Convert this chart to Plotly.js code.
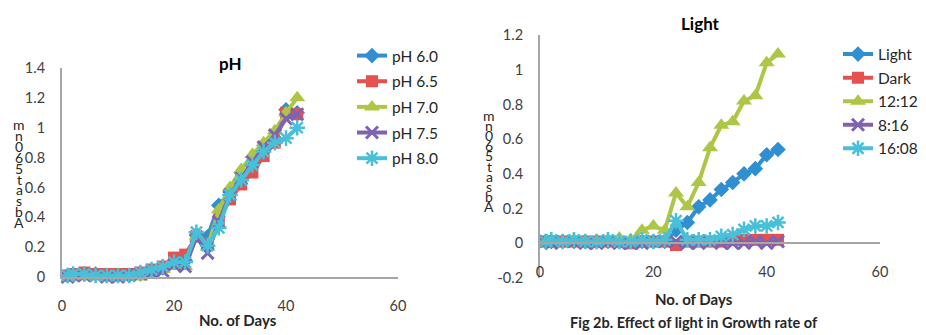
<!DOCTYPE html>
<html>
<head>
<meta charset="utf-8">
<script src="https://cdn.plot.ly/plotly-3.0.1.min.js"></script>
<style>html,body{margin:0;padding:0;background:#fff}#chart{width:926px;height:335px}</style>
</head>
<body>
<div id="chart"></div>
<script>
// ---------- data ----------
const days = [1, 2, 4, 6, 8, 10, 12, 14, 16, 18, 20, 22, 24, 26, 28, 30, 32, 34, 36, 38, 40, 42];

const phNames = ['pH 6.0', 'pH 6.5', 'pH 7.0', 'pH 7.5', 'pH 8.0'];
const ph60 = [0.01, 0.01, 0.02, 0.02, 0.01, 0.01, 0.01, 0.02, 0.04, 0.06, 0.10, 0.11, 0.28, 0.27, 0.48, 0.57, 0.66, 0.76, 0.85, 0.93, 1.12, 1.10];
const ph65 = [0.01, 0.02, 0.03, 0.02, 0.02, 0.02, 0.02, 0.03, 0.05, 0.07, 0.13, 0.15, 0.27, 0.22, 0.38, 0.52, 0.62, 0.70, 0.81, 0.90, 1.10, 1.09];
const ph70 = [-0.01, 0.00, 0.00, 0.00, -0.01, -0.01, -0.01, 0.00, 0.02, 0.05, 0.07, 0.07, 0.27, 0.20, 0.45, 0.60, 0.72, 0.82, 0.90, 0.98, 1.10, 1.20];
const ph75 = [0.00, 0.01, 0.01, 0.01, 0.00, 0.00, 0.01, 0.02, 0.03, 0.04, 0.08, 0.07, 0.27, 0.16, 0.37, 0.55, 0.66, 0.77, 0.87, 0.95, 1.06, 1.09];
const ph80 = [0.01, 0.02, 0.02, 0.01, 0.01, 0.01, 0.01, 0.03, 0.05, 0.07, 0.10, 0.10, 0.30, 0.21, 0.33, 0.55, 0.65, 0.75, 0.84, 0.90, 0.93, 1.00];

const lightNames = ['Light', 'Dark', '12:12', '8:16', '16:08'];
const light = [0.01, 0.01, 0.01, 0.01, 0.01, 0.01, 0.01, 0.01, 0.01, 0.01, 0.01, 0.01, 0.075, 0.12, 0.21, 0.25, 0.31, 0.35, 0.40, 0.43, 0.51, 0.54];
const dark = [0.01, 0.01, 0.01, 0.01, 0.01, 0.01, 0.01, 0.01, 0.00, 0.01, 0.01, 0.01, -0.01, 0.01, 0.01, 0.01, 0.01, 0.02, 0.02, 0.02, 0.02, 0.02];
const ll1212 = [0.01, 0.01, 0.01, 0.02, 0.01, 0.01, 0.02, 0.03, 0.02, 0.075, 0.10, 0.075, 0.29, 0.21, 0.35, 0.55, 0.68, 0.70, 0.82, 0.85, 1.04, 1.09];
const ll816 = [0.01, 0.00, 0.01, 0.01, 0.00, 0.00, 0.01, 0.00, 0.00, 0.00, 0.01, 0.01, 0.01, 0.00, 0.00, 0.01, 0.00, 0.00, 0.00, 0.01, 0.00, 0.01];
const ll1608 = [0.01, 0.02, 0.01, 0.02, 0.01, 0.01, 0.02, 0.01, 0.01, 0.02, 0.01, 0.02, 0.13, 0.02, 0.02, 0.02, 0.04, 0.05, 0.08, 0.10, 0.10, 0.12];

const xTicks = [0, 20, 40, 60];
const phYTicks = [0, 0.2, 0.4, 0.6, 0.8, 1, 1.2, 1.4];
const phYText = ['0', '0.2', '0.4', '0.6', '0.8', '1', '1.2', '1.4'];
const lightYTicks = [-0.2, 0, 0.2, 0.4, 0.6, 0.8, 1, 1.2];
const lightYText = ['-0.2', '0', '0.2', '0.4', '0.6', '0.8', '1', '1.2'];

const yTitleChars = ['m', 'n', '0', '6', '5', 't', 'a', 's', 'b', 'A'];
const xTitle = 'No. of Days';
const caption = 'Fig 2b. Effect of light in Growth rate of';

// ---------- styling ----------
const W = 926, H = 335;
const px = x => x / W;
const py = y => 1 - y / H;
const FONT = 'Lato, "Open Sans", sans-serif';
const colors = ['#2F8FD1', '#E5514E', '#AEC645', '#7F63B0', '#47C0D8'];
const markers = [
  {symbol: 'diamond', size: 12},
  {symbol: 'square', size: 12},
  {symbol: 'triangle-up', size: 14},
  {symbol: 'x-thin-open', size: 12, line: {width: 3}},
  {symbol: 'asterisk-open', size: 13, line: {width: 2.5}}
];

function mk(name, y, i, xa, ya, leg) {
  const m = Object.assign({color: colors[i]}, markers[i]);
  if (m.line) m.line = Object.assign({color: colors[i]}, m.line);
  return {
    x: days, y: y, name: name, type: 'scatter', mode: 'lines+markers',
    xaxis: xa, yaxis: ya, legend: leg, legendgroup: leg + name, cliponaxis: false,
    line: {color: colors[i], width: 4},
    marker: m
  };
}

const phSeries = [ph60, ph65, ph70, ph75, ph80];
const lightSeries = [light, dark, ll1212, ll816, ll1608];
const traces = [];
phSeries.forEach((s, i) => traces.push(mk(phNames[i], s, i, 'x', 'y', 'legend')));
lightSeries.forEach((s, i) => traces.push(mk(lightNames[i], s, i, 'x2', 'y2', 'legend2')));

const axisLine = '#A6A6A6';
const tickFont = {family: FONT, size: 14.5, color: '#404040'};

const y2dom = [py(278), py(35)];
const y2Range = [-0.2, 1.2];
const x2pos = y2dom[0] + (y2dom[1] - y2dom[0]) * (0 - y2Range[0]) / (y2Range[1] - y2Range[0]);

function ann(text, x, y, size, color) {
  return {text: text, x: px(x), y: py(y), xref: 'paper', yref: 'paper', xanchor: 'center', yanchor: 'middle',
          showarrow: false, font: {family: FONT, size: size, color: color}};
}
const annotations = [
  ann('<b>pH</b>', 230, 63, 17, '#000'),
  ann('<b>Light</b>', 700, 23, 17, '#000'),
  ann('<b>' + xTitle + '</b>', 238, 320, 15, '#262626'),
  ann('<b>' + xTitle + '</b>', 694, 299, 15, '#262626'),
  ann('<b>' + caption + '</b>', 694, 322, 14.5, '#262626')
];
yTitleChars.forEach((c, k) => {
  annotations.push(ann(c, 19, 125 + k * 10.8, 14, '#262626'));
  annotations.push(ann(c, 489, 115 + k * 10.2, 14, '#262626'));
});

const layout = {
  width: W, height: H,
  margin: {l: 0, r: 0, t: 0, b: 0},
  paper_bgcolor: '#fff', plot_bgcolor: 'rgba(0,0,0,0)',
  font: {family: FONT},
  showlegend: true,
  xaxis: {domain: [px(62), px(398)], range: [0, 60], tickvals: xTicks, anchor: 'y',
          showline: true, linecolor: axisLine, linewidth: 2, showgrid: false, zeroline: false,
          ticks: '', tickfont: tickFont, ticklabelstandoff: 15},
  yaxis: {domain: [py(277), py(68)], range: [0, 1.4], tickvals: phYTicks, ticktext: phYText, anchor: 'x',
          showline: true, linecolor: axisLine, linewidth: 2, showgrid: false, zeroline: false,
          ticks: '', tickfont: tickFont, ticklabelstandoff: 12},
  xaxis2: {domain: [px(540), px(880)], range: [0, 60], tickvals: xTicks, anchor: 'free', position: x2pos,
           showline: true, linecolor: axisLine, linewidth: 2, showgrid: false, zeroline: false,
           ticks: '', tickfont: tickFont, ticklabelstandoff: 15},
  yaxis2: {domain: y2dom, range: y2Range, tickvals: lightYTicks, ticktext: lightYText, anchor: 'x2',
           showline: true, linecolor: axisLine, linewidth: 2, showgrid: false, zeroline: false,
           ticks: '', tickfont: tickFont, ticklabelstandoff: 12},
  legend: {x: px(352), y: py(39), xanchor: 'left', yanchor: 'top', bgcolor: 'rgba(0,0,0,0)',
           font: {family: FONT, size: 15.5, color: '#262626'}, tracegroupgap: 2.5, itemwidth: 30},
  legend2: {x: px(838), y: py(37.5), xanchor: 'left', yanchor: 'top', bgcolor: 'rgba(0,0,0,0)',
            font: {family: FONT, size: 15.5, color: '#262626'}, tracegroupgap: 0.4, itemwidth: 30},
  annotations: annotations
};

Plotly.newPlot('chart', traces, layout, {staticPlot: true, displayModeBar: false});
</script>
</body>
</html>
